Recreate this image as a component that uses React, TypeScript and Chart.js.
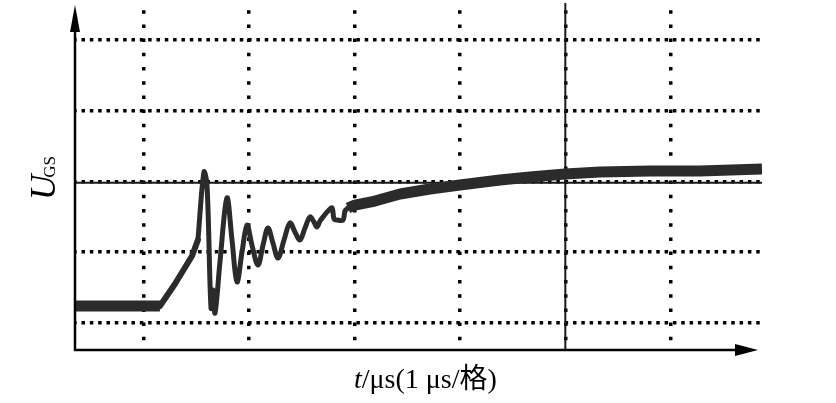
import React, { useEffect, useRef } from "react";
import { Chart, registerables } from "chart.js";

Chart.register(...registerables);

// Time axis in μs (1 μs per division), voltage axis in divisions
const timeTicks = [1, 2, 3, 4, 5, 6];
const voltTicks = [0, 1, 2, 3, 4];
const timeRange = [0.353, 6.864];
const voltRange = [-0.386, 4.524];

// Flat pre-switching level
const flatTime = [0.353, 1.158];
const flatU = [0.236, 0.236];

// Linear rise
const rampTime = [1.158, 1.3, 1.462, 1.518];
const rampU = [0.236, 0.548, 0.944, 1.17];

// Ringing
const ringTime = [
  1.518, 1.575, 1.604, 1.642, 1.661, 1.68, 1.727, 1.793, 1.841,
  1.888, 1.936, 1.983, 2.03, 2.087, 2.135, 2.182, 2.229, 2.277, 2.334, 2.39, 2.438,
  2.485, 2.533, 2.58, 2.618, 2.646, 2.675, 2.703, 2.751, 2.789, 2.808, 2.836, 2.893,
  2.912, 2.94,
];
const ringU = [
  1.17, 2.132, 1.949, 0.208, 0.463, 0.137, 0.859, 1.765, 1.17,
  0.576, 1.0, 1.382, 1.099, 0.816, 1.099, 1.34, 1.128, 0.916, 1.17, 1.411, 1.283,
  1.17, 1.34, 1.496, 1.425, 1.354, 1.439, 1.496, 1.581, 1.623, 1.467, 1.453, 1.453,
  1.581, 1.623,
];

// Slow rise to steady state (noisy, thick trace)
const riseTime = [2.94, 3.006, 3.196, 3.433, 3.717, 4.001, 4.381, 4.665, 4.997, 5.329, 5.803, 6.277, 6.864];
const riseU = [1.623, 1.665, 1.722, 1.821, 1.892, 1.949, 2.019, 2.062, 2.104, 2.132, 2.147, 2.147, 2.175];

// Reference markers (solid lines)
const referenceLevel = 1.98;
const markerTime = 5;

const toPoints = (xs: number[], ys: number[]) => xs.map((x, i) => ({ x, y: ys[i] }));

const axesPlugin = {
  id: "axesArrows",
  afterDraw(chart: any) {
    const { ctx, chartArea } = chart;
    const { left, right, top, bottom } = chartArea;
    ctx.save();
    ctx.strokeStyle = "#000";
    ctx.fillStyle = "#000";
    ctx.lineWidth = 2.5;
    // y axis
    ctx.beginPath();
    ctx.moveTo(left, bottom + 1);
    ctx.lineTo(left, top + 28);
    ctx.stroke();
    ctx.beginPath();
    ctx.moveTo(left, top + 2);
    ctx.lineTo(left - 5, top + 29);
    ctx.lineTo(left + 5, top + 29);
    ctx.closePath();
    ctx.fill();
    // x axis
    ctx.beginPath();
    ctx.moveTo(left - 1, bottom);
    ctx.lineTo(right - 26, bottom);
    ctx.stroke();
    ctx.beginPath();
    ctx.moveTo(right - 4, bottom);
    ctx.lineTo(right - 27, bottom - 6);
    ctx.lineTo(right - 27, bottom + 6);
    ctx.closePath();
    ctx.fill();

    // y label U_GS
    ctx.save();
    ctx.translate(left - 20, 200);
    ctx.rotate(-Math.PI / 2);
    ctx.textBaseline = "alphabetic";
    ctx.textAlign = "left";
    ctx.font = 'italic 35px "Liberation Serif", "Times New Roman", serif';
    ctx.fillText("U", 0, 0);
    const w = ctx.measureText("U").width;
    ctx.font = '17px "Liberation Serif", "Times New Roman", serif';
    ctx.fillText("GS", w - 3, 0);
    ctx.restore();

    // x label
    ctx.textBaseline = "alphabetic";
    ctx.textAlign = "left";
    let x = 354;
    const y = 388;
    ctx.font = 'italic 28px "Liberation Serif", "Times New Roman", serif';
    ctx.fillText("t", x, y);
    x += ctx.measureText("t").width;
    ctx.font = '28px "Liberation Serif", "Times New Roman", "Noto Sans CJK SC", serif';
    ctx.fillText("/μs(1 μs/格)", x, y);
    ctx.restore();
  },
};

export default function App() {
  const ref = useRef<HTMLCanvasElement | null>(null);
  useEffect(() => {
    if (!ref.current) return;
    const trace = "#2b2b2b";
    const chart = new Chart(ref.current, {
      type: "line",
      data: {
        datasets: [
          {
            data: toPoints(flatTime, flatU),
            borderColor: trace,
            borderWidth: 11,
            pointRadius: 0,
            borderCapStyle: "butt",
            borderJoinStyle: "round",
          },
          {
            data: toPoints(rampTime, rampU),
            borderColor: trace,
            borderWidth: 6,
            pointRadius: 0,
            borderCapStyle: "round",
            borderJoinStyle: "round",
          },
          {
            data: toPoints(ringTime, ringU),
            borderColor: trace,
            borderWidth: 5,
            pointRadius: 0,
            tension: 0.35,
            borderCapStyle: "round",
            borderJoinStyle: "round",
          },
          {
            data: toPoints(riseTime, riseU),
            borderColor: trace,
            borderWidth: 11,
            pointRadius: 0,
            borderCapStyle: "butt",
            borderJoinStyle: "round",
          },
          {
            data: toPoints(timeRange, [referenceLevel, referenceLevel]),
            borderColor: "#1a1a1a",
            borderWidth: 2,
            pointRadius: 0,
          },
          {
            data: toPoints([markerTime, markerTime], voltRange),
            borderColor: "#1a1a1a",
            borderWidth: 2,
            pointRadius: 0,
          },
        ] as any,
      },
      options: {
        responsive: false,
        animation: false,
        events: [],
        layout: { padding: { left: 75, right: 74, top: 3, bottom: 53 } },
        plugins: { legend: { display: false }, tooltip: { enabled: false } },
        scales: {
          x: {
            type: "linear",
            min: timeRange[0],
            max: timeRange[1],
            afterBuildTicks: (s: any) => {
              s.ticks = timeTicks.map((v) => ({ value: v }));
            },
            ticks: { display: false },
            grid: { color: "#000", lineWidth: 3.5, drawTicks: false },
            border: { display: false, dash: [3.5, 10.7], dashOffset: 7 },
          },
          y: {
            type: "linear",
            min: voltRange[0],
            max: voltRange[1],
            afterBuildTicks: (s: any) => {
              s.ticks = voltTicks.map((v) => ({ value: v }));
            },
            ticks: { display: false },
            grid: { color: "#000", lineWidth: 3.5, drawTicks: false },
            border: { display: false, dash: [3.5, 4.83], dashOffset: 1.83 },
          },
        },
      } as any,
      plugins: [axesPlugin],
    });
    return () => chart.destroy();
  }, []);
  return (
    <div style={{ position: "fixed", left: 0, top: 0, width: 836, height: 403, background: "#fff" }}>
      <canvas ref={ref} width={836} height={403} style={{ display: "block" }} />
    </div>
  );
}
